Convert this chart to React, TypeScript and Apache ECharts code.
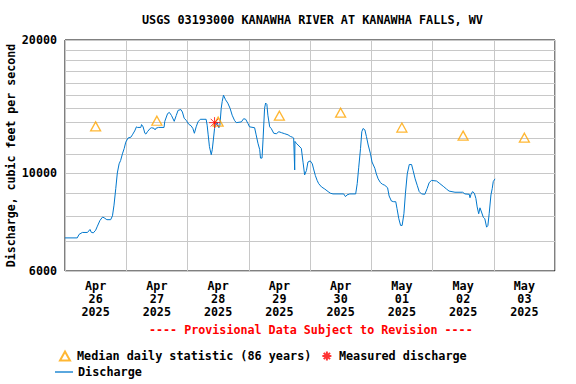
import React, { useEffect, useRef } from 'react';
import * as echarts from 'echarts';

const TITLE = 'USGS 03193000 KANAWHA RIVER AT KANAWHA FALLS, WV';
const PROVISIONAL = '---- Provisional Data Subject to Revision ----';
const Y_NAME = 'Discharge, cubic feet per second';

const startUTC = Date.UTC(2025, 3, 26);
const HOUR = 3600 * 1000;

const dayLabels = [
  'Apr\n26\n2025', 'Apr\n27\n2025', 'Apr\n28\n2025', 'Apr\n29\n2025',
  'Apr\n30\n2025', 'May\n01\n2025', 'May\n02\n2025', 'May\n03\n2025',
];

const yLabelValues = [6000, 10000, 20000];
const yGridValues = [6000, 7000, 8000, 9000, 10000, 11000, 12000, 13000, 14000, 15000, 16000, 17000, 18000, 19000, 20000];

// hours since Apr 26 00:00
const dischargeHours = [
  0, 4.8, 5.5, 6.8, 8.8, 9.8, 10.3, 11.1, 12.0, 12.7, 13.7, 14.7, 15.3, 16.4, 17.9, 18.6, 19.2, 19.9,
  20.5, 21.2, 21.8, 22.5, 23.2, 23.8, 24.7, 25.8, 26.4, 27.3, 28.0, 28.4, 29.7, 30.0, 30.6, 31.3, 31.7,
  32.3, 33.4, 33.9, 34.9, 35.3, 35.6, 36.6, 38.8, 39.1, 40.2, 40.9, 41.7, 42.8, 43.6, 44.3, 45.4, 46.0,
  46.7, 47.5, 48.5, 49.4, 50.1, 50.7, 51.4, 52.1, 53.0, 55.3, 55.7, 56.1, 56.6, 57.3, 57.7, 58.2, 58.6,
  59.0, 59.5, 59.9, 60.3, 60.7, 61.2, 61.6, 62.1, 62.9, 63.8, 64.7, 65.5, 66.4, 67.1, 69.1, 70.0, 70.8,
  71.7, 72.3, 74.3, 74.9, 75.6, 76.3, 76.6, 77.2, 77.6, 78.2, 78.6, 79.1, 79.5, 80.2, 80.8, 81.8, 82.8,
  83.8, 84.8, 86.1, 87.4, 88.3, 89.1, 89.6, 90.0, 90.1, 90.6, 91.7, 92.6, 93.3, 93.9, 94.6, 95.2, 96.1,
  96.9, 97.4, 98.1, 98.8, 99.4, 100.5, 101.8, 103.1, 104.0, 105.0, 109.2, 109.9, 110.5, 111.6, 113.9,
  114.5, 115.1, 115.8, 116.3, 116.8, 117.5, 118.1, 118.8, 119.7, 120.3, 121.4, 122.0, 122.7, 123.6,
  124.4, 125.3, 126.4, 127.0, 127.9, 128.8, 129.6, 130.1, 130.8, 131.5, 132.1, 132.8, 133.4, 134.1,
  134.9, 135.8, 136.4, 137.2, 138.0, 138.8, 139.7, 141.0, 141.9, 142.7, 143.6, 145.6, 146.9, 148.2,
  149.5, 150.5, 152.8, 155.8, 156.7, 158.4, 158.7, 159.1, 159.7, 160.4, 161.0, 161.5, 162.1, 162.6,
  163.2, 163.9, 164.5, 165.2, 165.7, 166.2, 166.9, 167.4, 167.8, 168.5,
];
const dischargeValues = [
  7130, 7130, 7260, 7335, 7335, 7450, 7340, 7320, 7420, 7580, 7810, 7945, 7920, 7840, 7840, 8000, 8456, 9230,
  10000, 10488, 10675, 11050, 11365, 11740, 12000, 12050, 12200, 12450, 12720, 12680, 12680, 12870, 12720, 12300, 12250,
  12400, 12620, 12660, 12620, 12520, 12620, 12680, 12680, 13090, 13630, 13710, 13500, 13090, 13500, 13860, 13920, 13740,
  13300, 13160, 12890, 12790, 12610, 12300, 12720, 13050, 13230, 13230, 12830, 12200, 11470, 11000, 11290, 12000, 12610,
  12830, 13050, 12870, 12660, 12830, 14000, 14520, 15000, 14650, 14390, 14000, 13515, 13160, 13000, 13050, 13270, 13230,
  12940, 12720, 12660, 12200, 11680, 11290, 10808, 10808, 11890, 14000, 14400, 14300, 13515, 12720, 12610, 12300, 12270,
  12400, 12340, 12270, 12200, 12100, 12050, 12000, 10160, 11790, 11680, 11510, 11370, 10544, 9900, 10130, 10590, 10650,
  10488, 10214, 9866, 9620, 9460, 9300, 9196, 9075, 9000, 8967, 8967, 8840, 8920, 8967, 8967,
  9460, 10305, 11370, 12400, 12610, 12520, 12100, 11570, 11050, 10590, 10250, 9950, 9700, 9510,
  9430, 9380, 9260, 8870, 8640, 8610, 8610, 8305, 7877, 7608, 7608, 8086, 9000, 9950,
  10451, 10451, 10130, 9700, 9380, 9075, 8967, 8950, 9220, 9510, 9620, 9590, 9460, 9330,
  9196, 9100, 9045, 9045, 8967, 8950, 8790, 8950, 9075, 9000, 8760, 8380, 8086, 8340,
  8160, 7940, 7877, 7540, 7608, 8086, 8920, 9220, 9560, 9700,
];

const medianHours = [12, 36, 60, 84, 108, 132, 156, 180];
const medianValues = [12750, 13130, 13070, 13480, 13690, 12670, 12150, 12020];

const measuredHours = [58.6];
const measuredValues = [13000];

const FONT = 'DejaVu Sans Mono';
const lg = (v: number) => Math.log10(v);
const pts = (hours: number[], values: number[]) =>
  hours.map((h, i) => [startUTC + h * HOUR, lg(values[i])]);

const STAR = 'path://M5,0L5,10M0,5L10,5M1.5,1.5L8.5,8.5M8.5,1.5L1.5,8.5';
const TRI = 'path://M0,9L5,0L10,9Z';

export default function App() {
  const ref = useRef<HTMLDivElement>(null);
  useEffect(() => {
    document.body.style.margin = '0';
    if (!ref.current) return;
    const chart = echarts.init(ref.current, undefined, { renderer: 'svg' });
    const textBase = { fontFamily: FONT, fontWeight: 'bold' as const, color: '#000' };
    chart.setOption({
      animation: false,
      backgroundColor: '#fff',
      title: [
        {
          text: TITLE,
          left: 142,
          top: 14,
          padding: 0,
          textStyle: { ...textBase, fontSize: 11.8 },
        },
        {
          text: PROVISIONAL,
          left: 149,
          top: 324,
          padding: 0,
          textStyle: { ...textBase, fontSize: 11.7, color: '#ff0000' },
        },
      ],
      legend: [
        {
          left: 59,
          top: 350,
          padding: 0,
          itemWidth: 14,
          itemHeight: 9,
          itemGap: 10,
          symbolKeepAspect: true,
          textStyle: { ...textBase, fontSize: 11.8 },
          data: [
            { name: 'Median daily statistic (86 years)', icon: TRI },
            { name: 'Measured discharge', icon: STAR },
          ],
        },
        {
          left: 55,
          top: 366,
          padding: 0,
          itemWidth: 18,
          itemHeight: 1.3,
          textStyle: { ...textBase, fontSize: 11.8 },
          data: [{ name: 'Discharge', icon: 'rect' }],
        },
      ],
      grid: {
        left: 65,
        right: 21,
        top: 40,
        bottom: 113,
        show: true,
        borderColor: '#000',
        borderWidth: 1,
        backgroundColor: '#fff',
        containLabel: false,
        outerBoundsMode: 'none',
      },
      xAxis: [
        {
          type: 'category',
          data: dayLabels,
          boundaryGap: true,
          axisLine: { show: false },
          axisTick: { show: false },
          splitLine: { show: true, interval: 0, lineStyle: { color: '#c8c8c8', width: 1 } },
          axisLabel: { ...textBase, fontSize: 11.7, lineHeight: 13, margin: 8, interval: 0 },
        },
        {
          type: 'time',
          min: startUTC,
          max: startUTC + 8 * 24 * HOUR,
          show: false,
        },
      ],
      yAxis: {
        type: 'value',
        min: lg(6000),
        max: lg(20000),
        name: Y_NAME,
        nameLocation: 'middle',
        nameGap: 48,
        nameMoveOverlap: false,
        nameTextStyle: { ...textBase, fontSize: 11.6 },
        axisLine: { show: false },
        axisTick: { show: false, customValues: yGridValues.map(lg) },
        splitLine: { show: true, lineStyle: { color: '#c8c8c8', width: 1 } },
        axisLabel: {
          ...textBase,
          fontSize: 11.7,
          margin: 8,
          customValues: yLabelValues.map(lg),
          formatter: (v: number) => String(Math.round(Math.pow(10, v) / 1000) * 1000),
        },
      },
      series: [
        {
          name: 'Discharge',
          type: 'line',
          xAxisIndex: 1,
          data: pts(dischargeHours, dischargeValues),
          symbol: 'none',
          showSymbol: false,
          lineStyle: { color: '#0077cc', width: 1 },
          itemStyle: { color: '#0077cc' },
          z: 3,
        },
        {
          name: 'Median daily statistic (86 years)',
          type: 'scatter',
          xAxisIndex: 1,
          data: pts(medianHours, medianValues),
          symbol: 'triangle',
          symbolSize: [10, 9],
          itemStyle: { color: 'rgba(255,255,255,0)', borderColor: '#ffa500', borderWidth: 1.3 },
          z: 4,
        },
        {
          name: 'Measured discharge',
          type: 'scatter',
          xAxisIndex: 1,
          data: pts(measuredHours, measuredValues),
          symbol: STAR,
          symbolSize: 11,
          symbolKeepAspect: true,
          itemStyle: { color: '#ff0000', borderColor: '#ff0000', borderWidth: 1 },
          z: 5,
        },
      ],
    });
    return () => chart.dispose();
  }, []);
  return <div ref={ref} style={{ width: 576, height: 384 }} />;
}
